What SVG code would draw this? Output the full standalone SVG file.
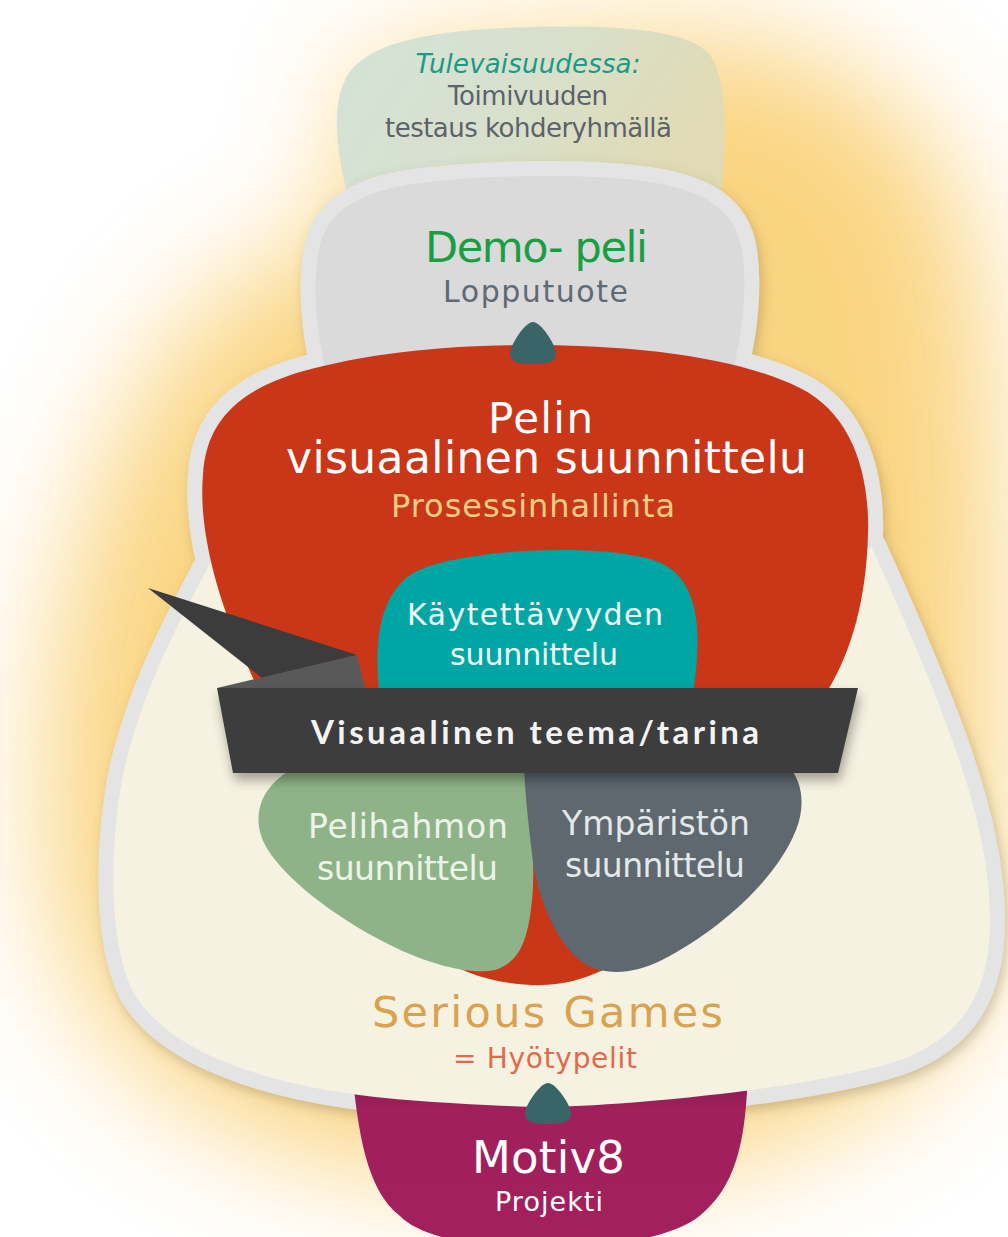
<svg xmlns="http://www.w3.org/2000/svg" width="1008" height="1237" viewBox="0 0 1008 1237">
  <defs>
    <filter id="glowBlur" x="-50%" y="-50%" width="200%" height="200%">
      <feGaussianBlur stdDeviation="60"/>
    </filter>
    <filter id="edgeShadow" x="-10%" y="-10%" width="120%" height="120%">
      <feDropShadow dx="3" dy="5" stdDeviation="6" flood-color="#6b5a3a" flood-opacity="0.3"/>
    </filter>
    <filter id="bannerShadow" x="-10%" y="-30%" width="120%" height="180%">
      <feDropShadow dx="2" dy="7" stdDeviation="6" flood-color="#000" flood-opacity="0.35"/>
    </filter>
    <linearGradient id="paleFill" x1="0" y1="0" x2="1" y2="0.3">
      <stop offset="0" stop-color="#d3e3d8"/>
      <stop offset="0.55" stop-color="#d8e0cc"/>
      <stop offset="1" stop-color="#e0dbb4"/>
    </linearGradient>
    <linearGradient id="magentaFill" x1="0" y1="0" x2="0" y2="1">
      <stop offset="0" stop-color="#7f1c4b"/>
      <stop offset="0.22" stop-color="#a0205c"/>
      <stop offset="1" stop-color="#a3205c"/>
    </linearGradient>
    <style>
      text { font-family: "DejaVu Sans", "Liberation Sans", sans-serif; text-anchor: middle; font-variant-ligatures: none; }
      .banner { font-family: Lato, "Open Sans", "Liberation Sans", sans-serif; font-weight: 700; }
      .rim { fill: #e4e4e4; stroke: #e4e4e4; stroke-width: 30; stroke-linejoin: round; }
      .bump { fill: #396568; }
    </style>
  </defs>

  <rect width="1008" height="1237" fill="#ffffff"/>

  <!-- warm glow behind the whole figure -->
  <path filter="url(#glowBlur)" fill="#f9cd6c" opacity="0.85"
        d="M 640,35 C 780,20 920,80 965,220 C 1005,350 1000,620 995,880 C 985,1090 800,1170 550,1180 C 310,1185 90,1110 55,900 C 25,700 80,470 180,340 C 230,280 290,250 345,240 L 360,70 C 450,50 540,42 640,35 Z"/>

  <!-- future step, behind the rim -->
  <g id="future">
    <path fill="url(#paleFill)"
          d="M 350,205 C 338,160 330,110 345,80 C 362,45 420,30 530,27 C 620,25 690,30 710,55 C 730,85 726,150 720,205 Z"/>
  </g>

  <!-- shared light rim around the stacked shapes -->
  <g id="rim" filter="url(#edgeShadow)">
    <path class="rim"
          d="M 328,380 C 315,330 312,280 320,245 C 330,205 370,188 430,182 C 490,175 590,173 650,182 C 705,190 735,210 742,250 C 748,290 742,340 730,380 Z"/>
    <path class="rim"
          d="M 530,345 C 640,345 740,358 800,388 C 850,413 870,470 868,535 C 866,600 852,650 828,690 C 760,820 660,985 540,985 C 465,985 415,950 375,895 C 325,825 275,730 245,660 C 218,600 198,530 203,475 C 206,420 240,390 300,372 C 370,352 450,345 530,345 Z"/>
    <path class="rim"
          d="M 212,560 C 188,605 140,690 122,780 C 108,860 110,950 135,995 C 175,1060 290,1092 420,1101 C 480,1105 520,1107 548,1107 C 640,1105 820,1087 900,1060 C 965,1036 990,990 990,920 C 990,820 945,710 872,548 L 700,500 L 300,500 Z"/>
  </g>

  <!-- project base -->
  <g id="motiv8">
    <path fill="url(#magentaFill)"
          d="M 352,1070 L 748,1070 C 746,1130 740,1180 704,1212 C 660,1258 444,1262 400,1216 C 366,1190 358,1130 352,1070 Z"/>
  </g>

  <!-- serious games body -->
  <g id="serious-games">
    <path fill="#f6f2e1"
          d="M 212,560 C 188,605 140,690 122,780 C 108,860 110,950 135,995 C 175,1060 290,1092 420,1101 C 480,1105 520,1107 548,1107 C 640,1105 820,1087 900,1060 C 965,1036 990,990 990,920 C 990,820 945,710 872,548 L 700,500 L 300,500 Z"/>
  </g>

  <!-- demo game -->
  <g id="demo-peli">
    <path fill="#dadada"
          d="M 328,380 C 315,330 312,280 320,245 C 330,205 370,188 430,182 C 490,175 590,173 650,182 C 705,190 735,210 742,250 C 748,290 742,340 730,380 Z"/>
  </g>

  <!-- visual design of the game -->
  <g id="visual-design">
    <path fill="#c93618"
          d="M 530,345 C 640,345 740,358 800,388 C 850,413 870,470 868,535 C 866,600 852,650 828,690 C 760,820 660,985 540,985 C 465,985 415,950 375,895 C 325,825 275,730 245,660 C 218,600 198,530 203,475 C 206,420 240,390 300,372 C 370,352 450,345 530,345 Z"/>
  </g>

  <g id="usability">
    <path fill="#00a6a3"
          d="M 380,700 C 374,650 376,600 410,575 C 450,548 620,540 665,565 C 705,588 700,650 692,700 Z"/>
  </g>

  <g id="character-design">
    <path fill="#8fb388"
          d="M 300,766 L 524,766 C 530,800 536,860 532,900 C 528,940 520,962 495,970 C 470,975 430,965 390,945 C 330,915 285,877 268,850 C 252,825 258,800 272,785 C 282,774 292,768 300,766 Z"/>
  </g>

  <g id="environment-design">
    <path fill="#5e686e"
          d="M 524,766 L 788,766 C 802,780 806,805 796,830 C 776,880 720,930 662,960 C 632,975 602,976 582,962 C 556,942 539,902 533,862 C 528,822 525,792 524,766 Z"/>
  </g>

  <!-- theme banner -->
  <g id="theme-banner">
    <polygon fill="#3c3c3c" points="148,588 357,655 262,678"/>
    <polygon fill="#595959" points="217,688 357,655 365,688"/>
    <polygon fill="#3c3c3c" filter="url(#bannerShadow)" points="217,688 858,688 838,773 233,773"/>
  </g>

  <!-- connectors between levels -->
  <g id="connectors">
    <path class="bump" d="M 533,322 C 541,322 556,345 556,354 C 556,363 545,364 533,364 C 521,364 510,363 510,354 C 510,345 525,322 533,322 Z"/>
    <path class="bump" d="M 548,1083 C 556,1083 571,1105 571,1114 C 571,1123 560,1124 548,1124 C 536,1124 525,1123 525,1114 C 525,1105 540,1083 548,1083 Z"/>
  </g>

  <!-- labels -->
  <g id="labels">
    <text x="528" y="73" font-size="26" font-style="italic" fill="#1a9b86" textLength="225">Tulevaisuudessa:</text>
    <text x="528" y="105" font-size="26" fill="#5c636b" textLength="160">Toimivuuden</text>
    <text x="528.5" y="137" font-size="26" fill="#5c636b" textLength="287">testaus kohderyhmällä</text>

    <text x="536.5" y="262" font-size="43" fill="#1a9e44" textLength="223">Demo- peli</text>
    <text x="535.5" y="302" font-size="30" fill="#5f6a74" textLength="185">Lopputuote</text>

    <!-- two-line title set as one block -->
    <text fill="#ffffff"><tspan x="540.5" y="433" font-size="42" textLength="105">Pelin</tspan><tspan x="546.5" y="473" font-size="44" textLength="521">visuaalinen suunnittelu</tspan></text>
    <text x="533" y="517" font-size="32" fill="#f2cd86" textLength="284">Prosessinhallinta</text>

    <text x="535" y="625" font-size="30" fill="#f2fbfa" textLength="256">Käytettävyyden</text>
    <text x="534" y="665" font-size="30" fill="#f2fbfa" textLength="168">suunnittelu</text>

    <text class="banner" x="535" y="744" font-size="33" fill="#f3f3f3" textLength="448">Visuaalinen teema/tarina</text>

    <text x="408" y="838" font-size="33" fill="#eef3ea" textLength="200">Pelihahmon</text>
    <text x="407.5" y="880" font-size="33" fill="#eef3ea" textLength="181">suunnittelu</text>

    <text x="656" y="835" font-size="33" fill="#e3e8ea" textLength="188">Ympäristön</text>
    <text x="655" y="877" font-size="33" fill="#e3e8ea" textLength="180">suunnittelu</text>

    <text x="547.5" y="1027" font-size="43" fill="#d9a24e" textLength="351">Serious Games</text>
    <text x="545" y="1068" font-size="28" fill="#e06b4c" textLength="184">= Hyötypelit</text>

    <text x="548.5" y="1173" font-size="45" fill="#ffffff" textLength="153">Motiv8</text>
    <text x="549" y="1211" font-size="27" fill="#ffffff" textLength="108">Projekti</text>
  </g>
</svg>
